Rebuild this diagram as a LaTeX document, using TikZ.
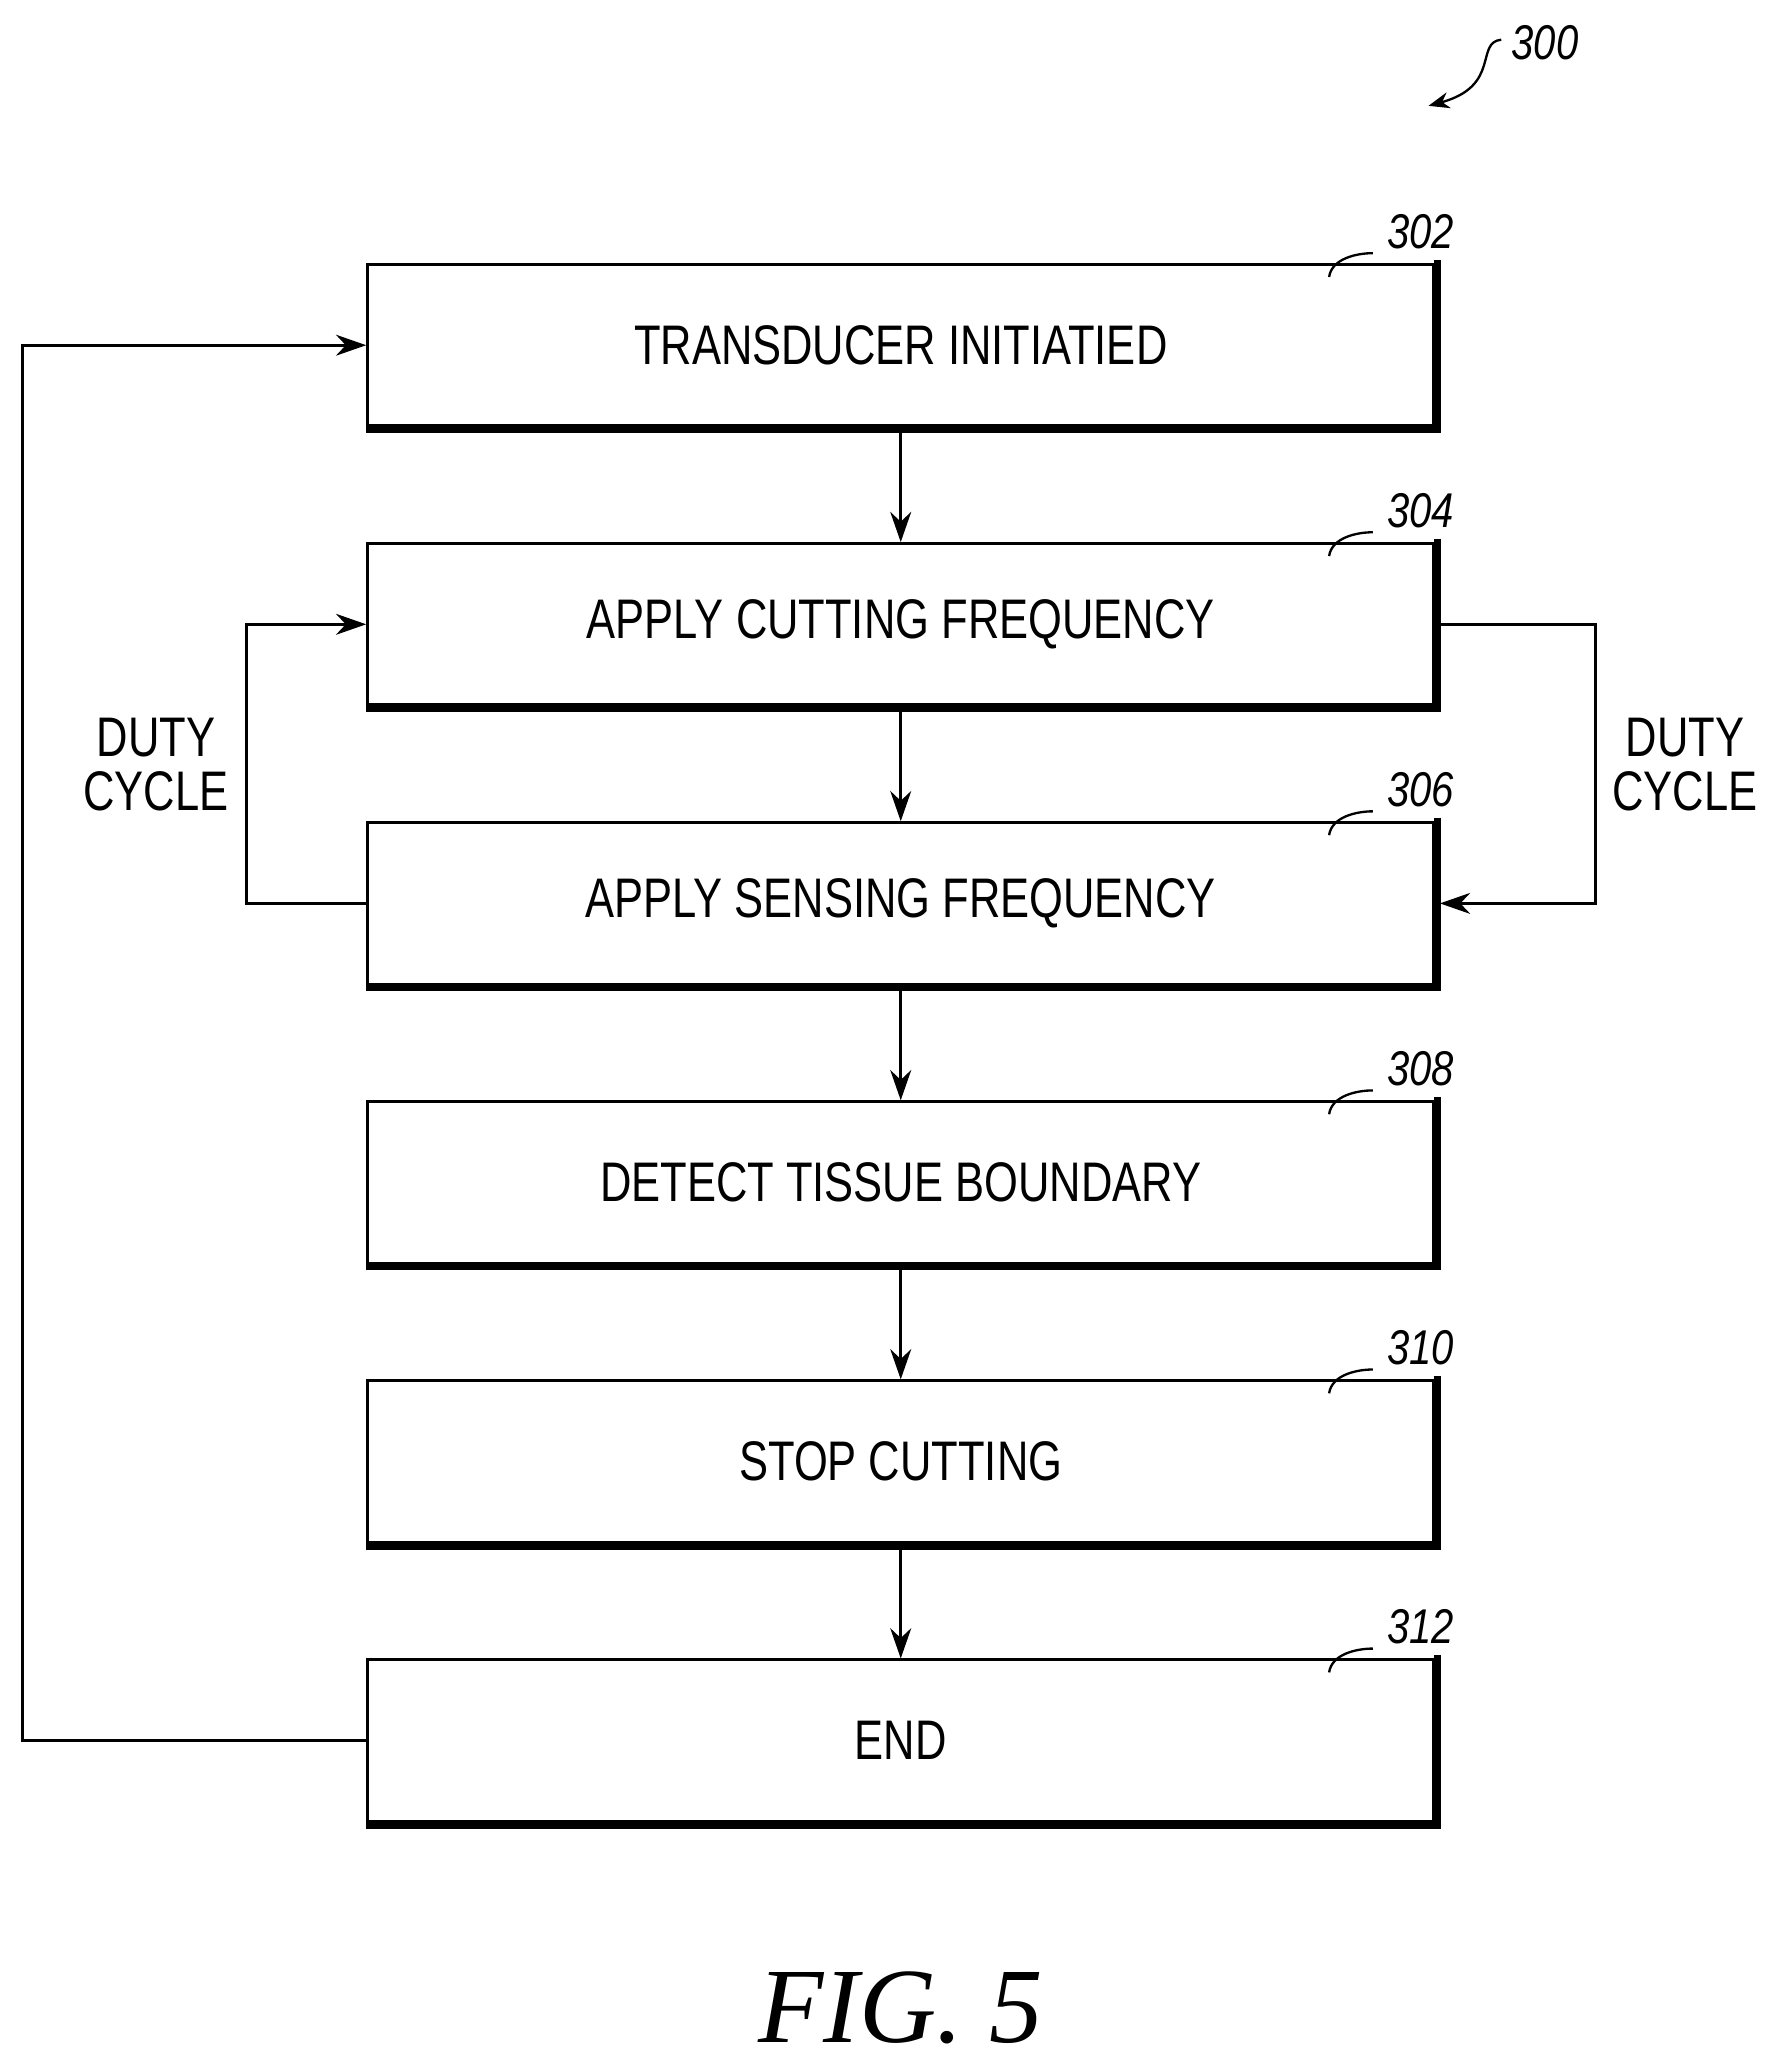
\documentclass[tikz,border=0pt]{standalone}
\usepackage{fontspec}
\setmainfont{Liberation Sans}
\newfontfamily\figfont{Liberation Serif}
\usetikzlibrary{arrows.meta}
\begin{document}
\begin{tikzpicture}[x=0.02cm,y=-0.02cm,
  box/.style={draw,line width=1.3pt,minimum width=806*0.02cm,minimum height=122*0.02cm,inner sep=0},
  txt/.style={font=\fontsize{24}{26}\selectfont,xscale=0.78},
  ref/.style={font=\itshape\fontsize{21}{22}\selectfont,xscale=0.82},
  arr/.style={line width=1.3pt,-{Stealth[length=13pt,width=9pt]}},
  ln/.style={line width=1.3pt}]
\useasboundingbox (0,0) rectangle (1339,1562);
\foreach \n/\y/\t/\r in {a/261/TRANSDUCER INITIATIED/302, b/472/APPLY CUTTING FREQUENCY/304, c/683/APPLY SENSING FREQUENCY/306, d/894/DETECT TISSUE BOUNDARY/308, e/1105/STOP CUTTING/310, f/1316/END/312}{
  \node[box] (\n) at (681,\y) {};
  \draw[line width=3pt] ([xshift=1pt,yshift=1.5pt]\n.north east) -- ([xshift=1pt,yshift=-1pt]\n.south east) -- ([yshift=-1pt]\n.south west);
  \node[txt] at (\n) {\t};
  \node[ref] (r\n) at (1074,\y-86) {\r};
  \draw[line width=1pt] ([xshift=-3pt,yshift=-6pt]\n.north east) ++(-75,0) coordinate (s\n) .. controls ++(2,-14) and ++(-12,0) .. ++(33,-18);
}
\draw[arr] (a) -- (b);
\draw[arr] (b) -- (c);
\draw[arr] (c) -- (d);
\draw[arr] (d) -- (e);
\draw[arr] (e) -- (f);
\draw[arr] (f.west) -- (17,1316) -- (17,261) -- (a.west);
\draw[arr] (c.west) -- (186,683) -- (186,472) -- (b.west);
\draw[arr] (b.east) -- (1206,472) -- (1206,683) -- ([xshift=2pt]c.east);
\node[txt,align=center,font=\fontsize{24}{23}\selectfont] (dl) at (118,578) {DUTY\\CYCLE};
\node[txt,align=center,font=\fontsize{24}{23}\selectfont] (dr) at (1274,578) {DUTY\\CYCLE};
\node[ref] (n300) at (1168,32) {300};
\coordinate (t300) at (1080,80);
\draw[line width=1pt,-{Stealth[length=9pt,width=7pt]}] (1135,30) .. controls (1115,32) and (1135,65) .. (t300);
\node[font=\figfont\itshape\fontsize{46}{48}\selectfont] (fig) at (681,1518) {FIG. 5};
\end{tikzpicture}
\end{document}
